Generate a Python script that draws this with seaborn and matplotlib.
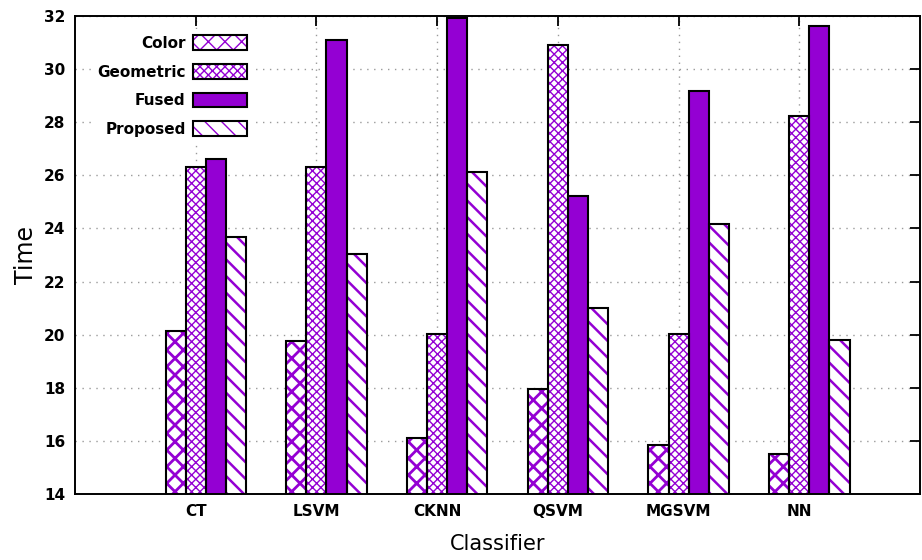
import numpy as np
import pandas as pd
import matplotlib
matplotlib.use("Agg")
import matplotlib.pyplot as plt
import seaborn as sns
from matplotlib.legend_handler import HandlerTuple

classifiers = ["CT", "LSVM", "CKNN", "QSVM", "MGSVM", "NN"]
series = ["Color", "Geometric", "Fused", "Proposed"]
color_vals = [20.15, 19.75, 16.1, 17.95, 15.84, 15.5]
geometric_vals = [26.33, 26.3, 20.04, 30.92, 20.04, 28.22]
fused_vals = [26.62, 31.11, 31.94, 25.23, 29.18, 31.64]
proposed_vals = [23.67, 23.02, 26.12, 21.0, 24.18, 19.79]
yticks = [14, 16, 18, 20, 22, 24, 26, 28, 30, 32]

df = pd.DataFrame({
    "Classifier": classifiers * 4,
    "Series": sum([[s] * len(classifiers) for s in series], []),
    "Time": color_vals + geometric_vals + fused_vals + proposed_vals,
})

sns.set_style("white")
plt.rcParams["font.family"] = ["DejaVu Sans"]
plt.rcParams["text.color"] = "black"
plt.rcParams["axes.labelcolor"] = "black"

PURPLE = "#9400D3"
fig = plt.figure(figsize=(9.22, 5.6), dpi=100)
ax = fig.add_axes([75 / 922, 1 - 494 / 560, 845 / 922, 478 / 560])

W = 4 / 6
for _ in range(2):
    sns.barplot(data=df, x="Classifier", y="Time", hue="Series", order=classifiers,
                hue_order=series, width=W, ax=ax, legend=False, errorbar=None,
                palette=[PURPLE] * 4)

styles = {
    "Color": dict(face="white", hatch="xx", hlw=2.0),
    "Geometric": dict(face="white", hatch="xxxx", hlw=1.0),
    "Fused": dict(face=PURPLE, hatch=None, hlw=1.0),
    "Proposed": dict(face="white", hatch="\\\\", hlw=1.8),
}

handles = []
for i, s in enumerate(series):
    st = styles[s]
    fill_c = ax.containers[i]
    line_c = ax.containers[i + 4]
    for p in fill_c:
        p.set_facecolor(st["face"])
        p.set_edgecolor(PURPLE)
        p.set_linewidth(0)
        if st["hatch"]:
            p.set_hatch(st["hatch"])
            try:
                p.set_hatch_linewidth(st["hlw"])
            except Exception:
                pass
        p.set_zorder(2)
    for p in line_c:
        p.set_facecolor("none")
        p.set_edgecolor("black")
        p.set_linewidth(1.5)
        p.set_zorder(3)
    handles.append((fill_c[0], line_c[0]))

ax.set_ylim(14, 32)
ax.set_yticks(yticks)
ax.set_yticklabels([str(v) for v in yticks])
xt = np.arange(len(classifiers)) - 1 / 12
ax.set_xticks(xt)
ax.set_xticklabels(classifiers)
ax.set_xlim(-1 - 1 / 12, len(classifiers) - 1 / 12)

ax.set_axisbelow(True)
ax.grid(True, color="#9a9a9a", linestyle=(0, (1, 4)), linewidth=1.0)
for sp in ax.spines.values():
    sp.set_visible(True)
    sp.set_color("black")
    sp.set_linewidth(1.4)
ax.tick_params(direction="in", top=True, right=True, length=7, width=1.3,
               labelsize=11, pad=7, colors="black")
for lab in ax.get_xticklabels() + ax.get_yticklabels():
    lab.set_fontweight("bold")

ax.set_xlabel("Classifier", fontsize=15, labelpad=11, color="black")
ax.set_ylabel("Time", fontsize=17, labelpad=4, color="black")

leg = ax.legend(handles, series, loc="upper left", bbox_to_anchor=(0.01, 0.988),
                markerfirst=False, frameon=True, fancybox=False,
                handler_map={tuple: HandlerTuple(ndivide=1)},
                handlelength=3.5, handleheight=1.1, labelspacing=0.85,
                handletextpad=0.5, borderpad=0.4,
                prop={"weight": "bold", "size": 11})
for t in leg.get_texts():
    t.set_color("black")
leg.get_frame().set_facecolor("white")
leg.get_frame().set_edgecolor("none")
leg.get_frame().set_alpha(1)
leg.set_zorder(5)

fig.savefig("out.png", dpi=100)
